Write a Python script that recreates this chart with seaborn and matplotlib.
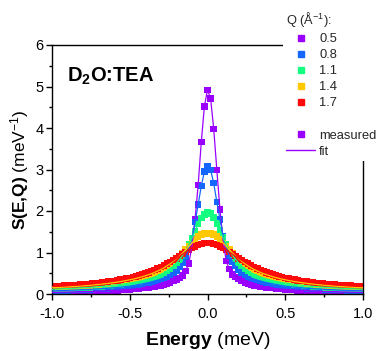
import numpy as np
import pandas as pd
import matplotlib
matplotlib.use("Agg")
import matplotlib.pyplot as plt
from matplotlib.lines import Line2D
from matplotlib.ticker import MultipleLocator
import seaborn as sns

# ---------------- data ----------------
energy = np.round(np.linspace(-1.0, 1.0, 101), 2)   # meV grid

q_labels = ["0.5", "0.8", "1.1", "1.4", "1.7"]
q_colors = ["#9A00FF", "#1466FF", "#14FF80", "#FFC800", "#FF0A0A"]

s_q05 = [0.040, 0.041, 0.043, 0.044, 0.046, 0.047, 0.049, 0.051, 0.053, 0.055,
         0.057, 0.059, 0.061, 0.064, 0.066, 0.069, 0.072, 0.075, 0.078, 0.082,
         0.085, 0.090, 0.095, 0.100, 0.105, 0.110, 0.115, 0.120, 0.130, 0.140,
         0.150, 0.160, 0.170, 0.180, 0.195, 0.210, 0.225, 0.250, 0.280, 0.310,
         0.350, 0.390, 0.450, 0.560, 0.740, 1.150, 1.800, 2.630, 3.660, 4.520,
         4.920,
         4.710, 3.980, 2.990, 2.040, 1.300, 0.800, 0.600, 0.470, 0.410, 0.360,
         0.310, 0.280, 0.255, 0.230, 0.210, 0.195, 0.180, 0.170, 0.160, 0.150,
         0.140, 0.130, 0.120, 0.115, 0.110, 0.105, 0.100, 0.095, 0.090, 0.085,
         0.082, 0.078, 0.075, 0.072, 0.069, 0.066, 0.064, 0.061, 0.059, 0.057,
         0.055, 0.053, 0.051, 0.049, 0.047, 0.046, 0.044, 0.043, 0.041, 0.040]

s_q08 = [0.077, 0.079, 0.081, 0.083, 0.086, 0.088, 0.091, 0.094, 0.097, 0.100,
         0.104, 0.107, 0.111, 0.115, 0.119, 0.123, 0.128, 0.133, 0.138, 0.144,
         0.150, 0.157, 0.164, 0.172, 0.180, 0.190, 0.200, 0.215, 0.230, 0.245,
         0.260, 0.275, 0.295, 0.315, 0.335, 0.360, 0.390, 0.420, 0.460, 0.520,
         0.570, 0.650, 0.750, 0.890, 1.080, 1.350, 1.730, 2.160, 2.600, 2.950,
         3.090,
         2.990, 2.670, 2.220, 1.800, 1.400, 1.120, 0.920, 0.780, 0.670, 0.580,
         0.520, 0.460, 0.420, 0.390, 0.360, 0.335, 0.315, 0.295, 0.275, 0.260,
         0.245, 0.230, 0.215, 0.200, 0.190, 0.180, 0.172, 0.164, 0.157, 0.150,
         0.144, 0.138, 0.133, 0.128, 0.123, 0.119, 0.115, 0.111, 0.107, 0.104,
         0.100, 0.097, 0.094, 0.091, 0.088, 0.086, 0.083, 0.081, 0.079, 0.077]

s_q11 = [0.115, 0.118, 0.121, 0.124, 0.127, 0.130, 0.134, 0.138, 0.142, 0.146,
         0.150, 0.155, 0.160, 0.165, 0.171, 0.177, 0.183, 0.190, 0.197, 0.205,
         0.213, 0.222, 0.232, 0.242, 0.253, 0.265, 0.275, 0.290, 0.305, 0.320,
         0.340, 0.360, 0.385, 0.410, 0.440, 0.470, 0.510, 0.560, 0.610, 0.670,
         0.745, 0.830, 0.930, 1.050, 1.190, 1.350, 1.520, 1.690, 1.830, 1.920,
         1.970,
         1.940, 1.840, 1.700, 1.530, 1.360, 1.200, 1.060, 0.940, 0.840, 0.750,
         0.670, 0.610, 0.560, 0.510, 0.470, 0.440, 0.410, 0.385, 0.360, 0.340,
         0.320, 0.305, 0.290, 0.275, 0.265, 0.253, 0.242, 0.232, 0.222, 0.213,
         0.205, 0.197, 0.190, 0.183, 0.177, 0.171, 0.165, 0.160, 0.155, 0.150,
         0.146, 0.142, 0.138, 0.134, 0.130, 0.127, 0.124, 0.121, 0.118, 0.115]

s_q14 = [0.150, 0.153, 0.157, 0.161, 0.165, 0.169, 0.174, 0.179, 0.184, 0.189,
         0.195, 0.201, 0.208, 0.215, 0.222, 0.230, 0.238, 0.247, 0.256, 0.266,
         0.277, 0.288, 0.300, 0.313, 0.327, 0.342, 0.358, 0.375, 0.395, 0.415,
         0.440, 0.465, 0.490, 0.520, 0.555, 0.590, 0.630, 0.680, 0.730, 0.790,
         0.850, 0.920, 0.990, 1.070, 1.150, 1.230, 1.310, 1.380, 1.430, 1.460,
         1.470,
         1.460, 1.430, 1.380, 1.310, 1.230, 1.150, 1.070, 0.990, 0.920, 0.850,
         0.790, 0.730, 0.680, 0.630, 0.590, 0.555, 0.520, 0.490, 0.465, 0.440,
         0.415, 0.395, 0.375, 0.358, 0.342, 0.327, 0.313, 0.300, 0.288, 0.277,
         0.266, 0.256, 0.247, 0.238, 0.230, 0.222, 0.215, 0.208, 0.201, 0.195,
         0.189, 0.184, 0.179, 0.174, 0.169, 0.165, 0.161, 0.157, 0.153, 0.150]

s_q17 = [0.184, 0.188, 0.192, 0.196, 0.200, 0.205, 0.210, 0.215, 0.220, 0.226,
         0.232, 0.239, 0.246, 0.253, 0.261, 0.269, 0.278, 0.287, 0.297, 0.308,
         0.319, 0.331, 0.344, 0.358, 0.373, 0.390, 0.408, 0.427, 0.448, 0.470,
         0.495, 0.520, 0.550, 0.580, 0.615, 0.650, 0.690, 0.730, 0.770, 0.815,
         0.860, 0.910, 0.960, 1.010, 1.060, 1.110, 1.150, 1.180, 1.210, 1.225,
         1.230,
         1.225, 1.210, 1.180, 1.150, 1.110, 1.060, 1.010, 0.960, 0.910, 0.860,
         0.815, 0.770, 0.730, 0.690, 0.650, 0.615, 0.580, 0.550, 0.520, 0.495,
         0.470, 0.448, 0.427, 0.408, 0.390, 0.373, 0.358, 0.344, 0.331, 0.319,
         0.308, 0.297, 0.287, 0.278, 0.269, 0.261, 0.253, 0.246, 0.239, 0.232,
         0.226, 0.220, 0.215, 0.210, 0.205, 0.200, 0.196, 0.192, 0.188, 0.184]

series = [s_q05, s_q08, s_q11, s_q14, s_q17]

df = pd.concat(
    [pd.DataFrame({"E": energy, "S": vals, "Q": q}) for q, vals in zip(q_labels, series)],
    ignore_index=True,
)
palette = dict(zip(q_labels, q_colors))

# ---------------- style ----------------
sns.set_theme(style="ticks")
plt.rcParams["font.family"] = ["Liberation Sans", "DejaVu Sans"]
plt.rcParams["mathtext.fontset"] = "custom"
plt.rcParams["mathtext.rm"] = "Liberation Sans"
plt.rcParams["mathtext.it"] = "Liberation Sans:italic"
plt.rcParams["mathtext.bf"] = "Liberation Sans:bold"

fig = plt.figure(figsize=(3.76, 3.51), dpi=100)
ax = fig.add_axes([52 / 376, 1 - 294 / 351, (363 - 52) / 376, (294 - 45) / 351])

sns.scatterplot(data=df, x="E", y="S", hue="Q", palette=palette, marker="s",
                s=22, linewidth=0, legend=False, ax=ax, zorder=2)
sns.lineplot(data=df, x="E", y="S", hue="Q", palette=palette, linewidth=0.9,
             estimator=None, sort=True, legend=False, ax=ax, zorder=3)

ax.set_xlim(-1.0, 1.0)
ax.set_ylim(0, 6)
ax.xaxis.set_minor_locator(MultipleLocator(0.25))
ax.yaxis.set_major_locator(MultipleLocator(1))
ax.yaxis.set_minor_locator(MultipleLocator(0.5))
ax.set_xticks([-1.0, -0.5, 0.0, 0.5, 1.0])
ax.set_xticklabels(["-1.0", "-0.5", "0.0", "0.5", "1.0"])
ax.tick_params(which="major", direction="out", length=4, width=1, colors="black",
               labelsize=10.5, pad=2)
ax.tick_params(axis="x", which="major", pad=5.5)
ax.tick_params(which="minor", direction="out", length=2.5, width=1, colors="black")
for sp in ax.spines.values():
    sp.set_visible(True)
    sp.set_color("black")
    sp.set_linewidth(1)

ax.set_xlabel(r"$\mathbf{Energy}$ (meV)", fontsize=14, labelpad=6, color="black")
ax.set_ylabel(r"$\mathbf{S(E{,}Q)}$ (meV$^{-1}$)", fontsize=12.5, labelpad=3, color="black")

ax.text(-0.905, 5.11, r"D$_\mathbf{2}$O:TEA", fontsize=14.5, fontweight="bold",
        ha="left", va="baseline", color="black")

# ---------------- legend ----------------
handles = [Line2D([], [], marker="s", linestyle="none", color=c, markersize=4.2)
           for c in q_colors]
labels = list(q_labels)
handles.append(Line2D([], [], linestyle="none"))
labels.append("")
handles.append(Line2D([], [], marker="s", linestyle="none", color=q_colors[0], markersize=4.2))
labels.append("measured")
handles.append(Line2D([], [], color=q_colors[0], linewidth=1))
labels.append("fit")

leg = ax.legend(handles, labels, title=r"Q ($\mathrm{\AA}^{-1}$):", loc="upper left",
                bbox_to_anchor=(283 / 376, 1 - 7 / 351), bbox_transform=fig.transFigure,
                fontsize=9.3, title_fontsize=9.3, frameon=True, fancybox=False,
                framealpha=1, edgecolor="none", facecolor="white",
                handlelength=2.25, handletextpad=0.3, labelspacing=0.31,
                borderpad=0.25, borderaxespad=0, alignment="left")
leg.set_zorder(10)

fig.savefig("out.png", dpi=100)
